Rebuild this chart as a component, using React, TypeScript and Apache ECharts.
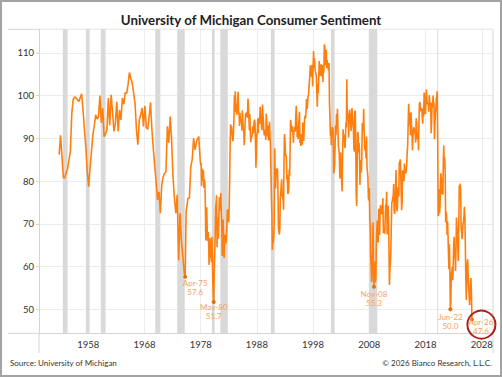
import React, { useEffect, useRef } from "react";
import * as echarts from "echarts";

// ---------- DATA ----------
const titleText = "University of Michigan Consumer Sentiment";
const sourceText = "Source: University of Michigan";
const copyrightText = "\u00A9 2026 Bianco Research, L.L.C.";

const axisStart = "1949-04";
const axisEnd = "2030-01";
const xTickYears = [1958, 1968, 1978, 1988, 1998, 2008, 2018, 2028];

// Irregular (quarterly-ish) survey readings before 1978
const earlyDates = [
  "1952-11", "1953-02", "1953-08", "1953-11", "1954-02", "1954-05", "1954-11",
  "1955-02", "1955-05", "1955-08", "1955-11", "1956-05", "1956-11",
  "1957-02", "1957-05", "1957-08", "1957-11", "1958-02", "1958-05", "1958-08", "1958-11",
  "1959-02", "1959-05", "1959-08", "1959-11", "1960-02", "1960-05", "1960-08", "1960-11",
  "1961-02", "1961-05", "1961-08", "1961-11", "1962-02", "1962-05", "1962-08", "1962-11",
  "1963-02", "1963-05", "1963-08", "1963-11", "1964-02", "1964-05", "1964-08", "1964-11",
  "1965-02", "1965-05", "1965-08", "1965-11", "1966-02", "1966-05", "1966-08", "1966-11",
  "1967-02", "1967-05", "1967-08", "1967-11", "1968-02", "1968-05", "1968-08", "1968-11",
  "1969-02", "1969-05", "1969-08", "1969-11", "1970-02", "1970-05", "1970-08", "1970-11",
  "1971-02", "1971-05", "1971-08", "1971-11", "1972-02", "1972-05", "1972-08", "1972-11",
  "1973-02", "1973-05", "1973-08", "1973-11", "1974-02", "1974-05", "1974-08", "1974-11",
  "1975-02", "1975-04", "1975-06", "1975-10", "1976-01", "1976-04", "1976-07", "1976-10",
  "1977-01", "1977-05", "1977-09", "1977-12",
];
const earlyValues = [
  86.2, 90.7, 80.8, 80.7, 82.0, 82.9, 87.0,
  95.9, 99.1, 99.7, 99.5, 98.6, 100.4,
  96.5, 92.0, 88.0, 82.2, 78.7, 83.0, 87.0, 90.8,
  93.0, 95.5, 94.5, 95.0, 100.0, 93.6, 97.0, 90.4,
  91.0, 92.0, 99.4, 93.0, 100.2, 96.0, 91.6, 93.5,
  98.6, 91.6, 96.6, 94.3, 99.4, 98.0, 100.7, 100.5,
  102.5, 105.4, 104.0, 102.9, 100.5, 98.2, 92.0, 88.5,
  94.3, 95.5, 97.1, 92.8, 97.6, 92.5, 92.1, 95.0,
  98.4, 92.0, 87.5, 83.5, 79.9, 75.6, 77.5, 72.5,
  79.1, 81.0, 81.8, 82.2, 92.8, 89.0, 95.1, 89.7,
  81.0, 76.0, 72.5, 76.8, 61.5, 72.5, 66.0, 62.3,
  58.5, 57.6, 72.9, 76.0, 76.0, 83.4, 85.0, 90.0,
  87.3, 89.6, 90.4, 85.0,
];

// Monthly readings from January 1978
const monthlyStart = "1978-01";
const values1978to1989 = [
  83.7, 84.3, 78.8, 81.6, 82.9, 80.0, 82.4, 78.4, 80.4, 79.3, 75.0, 66.1,
  72.1, 73.9, 68.4, 66.0, 68.1, 65.8, 60.4, 64.5, 66.7, 62.1, 63.3, 61.0,
  67.0, 66.9, 56.5, 52.7, 51.7, 58.7, 62.3, 67.4, 73.7, 75.0, 76.7, 64.5,
  71.4, 66.9, 66.5, 72.4, 76.3, 73.1, 74.1, 77.2, 73.1, 70.3, 62.5, 64.3,
  71.0, 66.5, 62.0, 65.5, 67.5, 65.7, 65.4, 65.4, 69.3, 73.4, 72.1, 71.9,
  70.4, 74.6, 80.8, 89.1, 93.3, 92.2, 92.8, 90.9, 89.9, 89.3, 91.1, 94.2,
  100.1, 97.4, 101.0, 96.1, 98.1, 95.5, 96.6, 99.1, 100.9, 96.3, 95.7, 92.9,
  96.0, 93.7, 93.7, 94.6, 91.8, 96.5, 94.0, 92.4, 92.1, 88.4, 90.9, 93.9,
  95.6, 95.9, 95.1, 96.2, 94.8, 99.3, 97.7, 94.9, 91.9, 95.6, 91.4, 89.1,
  90.4, 90.2, 90.8, 92.8, 91.1, 91.5, 93.7, 94.4, 93.6, 89.3, 83.1, 86.8,
  90.8, 91.6, 94.6, 91.2, 94.8, 94.7, 93.4, 97.4, 97.3, 94.1, 93.0, 91.9,
  97.9, 95.4, 94.3, 91.5, 90.7, 90.6, 92.0, 89.6, 95.8, 93.9, 90.9, 90.5,
];
const values1990to1999 = [
  93.0, 89.5, 91.3, 93.9, 90.6, 88.3, 88.2, 76.4, 72.8, 63.9, 66.0, 65.5,
  66.8, 70.4, 87.7, 81.8, 78.3, 82.1, 82.9, 82.0, 83.0, 78.3, 69.1, 68.2,
  67.5, 68.8, 76.0, 77.2, 79.2, 80.4, 76.6, 76.1, 75.6, 73.3, 85.3, 91.0,
  89.3, 86.6, 85.9, 85.6, 80.3, 81.5, 77.0, 77.3, 77.9, 82.7, 81.2, 88.2,
  94.3, 93.2, 91.5, 92.6, 92.8, 91.2, 89.0, 91.7, 91.5, 92.7, 91.6, 95.1,
  97.6, 95.1, 90.3, 92.5, 89.8, 92.7, 94.4, 96.2, 88.9, 90.2, 88.2, 91.0,
  89.3, 88.5, 93.7, 92.7, 89.4, 92.4, 94.7, 95.3, 94.7, 96.5, 99.2, 96.9,
  97.4, 99.7, 100.0, 101.4, 103.2, 104.5, 107.1, 104.4, 106.0, 105.6, 107.2, 102.1,
  106.6, 110.4, 106.5, 108.7, 106.5, 105.6, 105.2, 104.4, 100.9, 97.4, 102.7, 100.5,
  103.9, 108.1, 105.7, 104.6, 106.8, 107.3, 106.0, 104.5, 107.2, 103.2, 107.2, 105.4,
];
const values2000to2009 = [
  112.0, 111.3, 107.1, 109.2, 110.7, 106.4, 108.3, 107.3, 106.8, 105.8, 107.6, 98.4,
  94.7, 90.6, 91.5, 88.4, 92.0, 92.6, 92.4, 91.5, 81.8, 82.7, 83.9, 88.8,
  93.0, 90.7, 95.7, 93.0, 96.9, 92.4, 88.1, 87.6, 86.1, 80.6, 84.2, 86.7,
  82.4, 79.9, 77.6, 86.0, 92.1, 89.7, 90.9, 89.3, 87.7, 89.6, 93.7, 92.6,
  103.8, 94.4, 95.8, 94.2, 90.2, 95.6, 96.7, 95.9, 94.2, 91.7, 92.8, 97.1,
  95.5, 94.1, 92.6, 87.7, 86.9, 96.0, 96.5, 89.1, 76.9, 74.2, 81.6, 91.5,
  91.2, 86.7, 88.9, 87.4, 79.1, 84.9, 84.7, 82.0, 85.4, 93.6, 92.1, 91.7,
  96.9, 91.3, 88.4, 87.1, 88.3, 85.3, 90.4, 83.4, 83.4, 80.9, 76.1, 75.5,
  78.4, 70.8, 69.5, 62.6, 59.8, 56.4, 61.2, 63.0, 70.3, 57.6, 55.3, 60.1,
  61.2, 56.3, 57.3, 65.1, 68.7, 70.8, 66.0, 65.7, 73.5, 70.6, 67.4, 72.5,
];
const values2010to2019 = [
  74.4, 73.6, 73.6, 72.2, 73.6, 76.0, 67.8, 68.9, 68.2, 67.7, 71.6, 74.5,
  74.2, 77.5, 67.5, 69.8, 74.3, 71.5, 63.7, 55.7, 59.5, 60.8, 63.7, 69.9,
  75.0, 75.3, 76.2, 76.4, 79.3, 73.2, 72.3, 74.3, 78.3, 82.6, 82.7, 72.9,
  73.8, 77.6, 78.6, 76.4, 84.5, 84.1, 85.1, 82.1, 77.5, 73.2, 75.1, 82.5,
  81.2, 81.6, 80.0, 84.1, 81.9, 82.5, 81.8, 82.5, 84.6, 86.9, 88.8, 93.6,
  98.1, 95.4, 93.0, 95.9, 90.7, 96.1, 93.1, 91.9, 87.2, 90.0, 91.3, 92.6,
  92.0, 91.7, 91.0, 89.0, 94.7, 93.5, 90.0, 89.8, 91.2, 87.2, 93.8, 98.2,
  98.5, 96.3, 96.9, 97.0, 97.1, 95.0, 93.4, 96.8, 95.1, 100.7, 98.5, 95.9,
  95.7, 99.7, 101.4, 98.8, 98.0, 98.2, 97.9, 96.2, 100.1, 98.6, 97.5, 98.3,
  91.2, 93.8, 98.4, 97.2, 100.0, 98.2, 98.4, 89.8, 93.2, 95.5, 96.8, 99.3,
];
const values2020to2026 = [
  99.8, 101.0, 89.1, 71.8, 72.3, 78.1, 72.5, 74.1, 80.4, 81.8, 76.9, 80.7,
  79.0, 76.8, 84.9, 88.3, 82.9, 85.5, 81.2, 70.3, 72.8, 71.7, 67.4, 70.6,
  67.2, 62.8, 59.4, 65.2, 58.4, 50.0, 51.5, 58.2, 58.6, 59.9, 56.8, 59.7,
  64.9, 67.0, 62.0, 63.5, 59.0, 64.2, 71.5, 69.4, 67.8, 63.8, 61.3, 69.7,
  79.0, 76.9, 79.4, 77.2, 69.1, 68.2, 66.4, 67.9, 70.1, 70.5, 71.8, 74.0,
  71.7, 64.7, 57.0, 52.2, 52.2, 60.7, 61.7, 58.2, 55.1, 53.6, 51.0, 52.9,
  56.4, 57.3, 53.3, 47.6,
];

// Annotated lows
const noteDates = ["1975-04", "1980-05", "2008-11", "2022-06", "2026-04"];
const noteLabels = ["Apr-75", "May-80", "Nov-08", "Jun-22", "Apr-26"];
const noteValues = [57.6, 51.7, 55.3, 50.0, 47.6];
const noteShiftX = [10, 0, 0, 0, 9];
const noteShiftY = [-2.5, -4, -1, -1, -6];
const circledDate = "2026-04";
const circledValue = 47.6;

// NBER recessions
const recessionStarts = ["1953-07", "1957-08", "1960-04", "1969-12", "1973-11", "1980-01", "1981-07", "1990-07", "2001-03", "2007-12", "2020-02"];
const recessionEnds = ["1954-05", "1958-04", "1961-02", "1970-11", "1975-03", "1980-07", "1982-11", "1991-03", "2001-11", "2009-06", "2020-04"];

// ---------- HELPERS ----------
const ym = (y: number, m: number) => `${y}-${String(m).padStart(2, "0")}`;
function buildCategories(start: string, end: string): string[] {
  let y = +start.slice(0, 4);
  let m = +start.slice(5, 7);
  const out: string[] = [];
  while (ym(y, m) <= end) {
    out.push(ym(y, m));
    m++;
    if (m > 12) { m = 1; y++; }
  }
  return out;
}
const categories = buildCategories(axisStart, axisEnd);

function buildValueMap(): Map<string, number> {
  const map = new Map<string, number>();
  earlyDates.forEach((d, i) => map.set(d, earlyValues[i]));
  const monthly = [...values1978to1989, ...values1990to1999, ...values2000to2009, ...values2010to2019, ...values2020to2026];
  const si = categories.indexOf(monthlyStart);
  monthly.forEach((v, i) => map.set(categories[si + i], v));
  return map;
}
const valueMap = buildValueMap();
const seriesData = categories.map((c) => (valueMap.has(c) ? valueMap.get(c)! : null));

const isTickMonth = (v: string) => v.endsWith("-01") && xTickYears.includes(+v.slice(0, 4));

const FONT = "Lato";
const ORANGE = "#ff7f0e";

export default function App() {
  const ref = useRef<HTMLDivElement>(null);
  useEffect(() => {
    if (!ref.current) return;
    const chart = echarts.init(ref.current, undefined, { renderer: "svg" });
    const gridLeft = 39;
    const gridRight = 9;
    const gridTop = 29.3;
    const gridBottom = 43.7;
    const W = 502, H = 377;
    const lineColor = "#d4d4d4";
    chart.setOption({
      animation: false,
      backgroundColor: "#ffffff",
      title: {
        text: titleText,
        left: "center",
        top: 8,
        textStyle: { fontFamily: FONT, fontSize: 13.3, fontWeight: "bold", color: "#222" },
      },
      grid: { left: gridLeft, right: gridRight, top: gridTop, bottom: gridBottom, containLabel: false },
      xAxis: {
        type: "category",
        data: categories,
        boundaryGap: false,
        axisLine: { show: true, lineStyle: { color: lineColor, width: 1 } },
        axisTick: { show: false },
        axisLabel: {
          interval: (_i: number, v: string) => isTickMonth(v),
          formatter: (v: string) => v.slice(0, 4),
          color: "#333",
          fontSize: 9.5,
          fontFamily: FONT,
          margin: 6,
        },
        splitLine: {
          show: true,
          interval: (_i: number, v: string) => isTickMonth(v),
          lineStyle: { color: "#ececec", width: 1 },
        },
      },
      yAxis: {
        type: "value",
        min: 44.4,
        max: 115.5,
        splitNumber: 7,
        axisLine: { show: true, lineStyle: { color: lineColor } },
        axisTick: { show: true, length: 3, lineStyle: { color: lineColor } },
        axisLabel: {
          color: "#333",
          fontSize: 9.5,
          fontFamily: FONT,
          margin: 5,
          showMinLabel: false,
          showMaxLabel: false,
          formatter: (v: number) => (Math.abs(v % 10) < 1e-6 ? String(v) : ""),
        },
        splitLine: { show: true, lineStyle: { color: "#ececec", width: 1 } },
      },
      series: [
        {
          type: "line",
          data: seriesData,
          z: 1,
          silent: true,
          showSymbol: false,
          connectNulls: true,
          lineStyle: { opacity: 0 },
          markArea: {
            silent: true,
            itemStyle: { color: "#d9d9d9" },
            data: recessionStarts.map((s, i) => [{ xAxis: s }, { xAxis: recessionEnds[i] }]),
          },
        },
        {
          type: "line",
          data: seriesData,
          z: 3,
          showSymbol: false,
          connectNulls: true,
          lineStyle: { color: ORANGE, width: 1.6 },
          itemStyle: { color: ORANGE },
          markPoint: {
            silent: true,
            data: [
              ...noteDates.map((d, i) => ({
                name: noteLabels[i],
                value: noteValues[i],
                coord: [d, noteValues[i]],
                symbol: "circle",
                symbolSize: 4,
                itemStyle: { color: "#e86f00" },
                label: {
                  show: true,
                  position: "bottom",
                  distance: 2,
                  offset: [noteShiftX[i], noteShiftY[i]],
                  formatter: (p: any) => `${p.name}\n${Number(p.value).toFixed(1)}`,
                  color: "#f6a25e",
                  fontSize: 8,
                  lineHeight: 9,
                  fontFamily: FONT,
                  align: "center",
                },
              })),
              {
                name: "circle",
                coord: [circledDate, circledValue],
                symbol: "circle",
                symbolSize: 28,
                symbolOffset: [9.5, 5],
                itemStyle: { color: "rgba(0,0,0,0)", borderColor: "#a82218", borderWidth: 2 },
                label: { show: false },
              },
            ],
          },
        },
      ],
      graphic: [
        { type: "line", shape: { x1: 8, y1: gridTop, x2: W - gridRight, y2: gridTop }, style: { stroke: lineColor, lineWidth: 1 }, silent: true },
        { type: "line", shape: { x1: 8, y1: H - gridBottom, x2: gridLeft, y2: H - gridBottom }, style: { stroke: lineColor, lineWidth: 1 }, silent: true },
        { type: "line", shape: { x1: W - gridRight, y1: gridTop, x2: W - gridRight, y2: 353 }, style: { stroke: lineColor, lineWidth: 1 }, silent: true },
        { type: "line", shape: { x1: gridLeft, y1: H - gridBottom, x2: gridLeft, y2: 353 }, style: { stroke: lineColor, lineWidth: 1 }, silent: true },
        {
          type: "text",
          left: 10,
          top: 359,
          style: { text: sourceText, fontFamily: FONT, fontSize: 8, fill: "#333" },
          silent: true,
        },
        {
          type: "text",
          right: 10,
          top: 359,
          style: { text: copyrightText, fontFamily: FONT, fontSize: 8, fill: "#333" },
          silent: true,
        },
      ],
    });
    return () => chart.dispose();
  }, []);
  return (
    <div style={{ position: "absolute", left: 0, top: 0, width: 502, height: 377 }}>
      <div ref={ref} style={{ position: "absolute", left: 0, top: 0, width: 502, height: 377 }} />
      <div
        style={{
          position: "absolute",
          left: 0,
          top: 0,
          width: 502,
          height: 377,
          boxSizing: "border-box",
          border: "2px solid #a3a3a3",
          pointerEvents: "none",
        }}
      />
    </div>
  );
}
